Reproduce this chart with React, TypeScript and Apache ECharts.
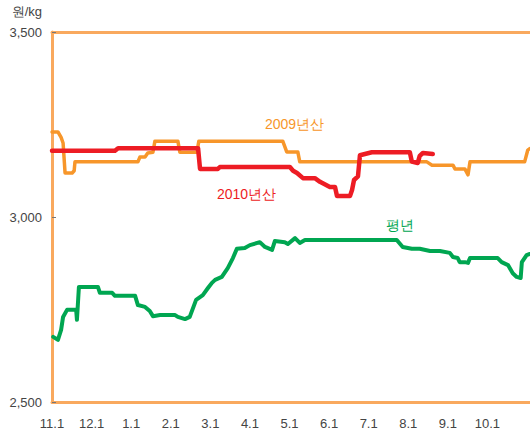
import React, { useEffect, useRef } from "react";
import * as echarts from "echarts";

// x values are months elapsed since Nov 1 (0 = 11.1, 1 = 12.1, ...)
const monthLabels = ["11.1", "12.1", "1.1", "2.1", "3.1", "4.1", "5.1", "6.1", "7.1", "8.1", "9.1", "10.1"];
const yTicks = [2500, 3000, 3500];

const crop2009X = [0, 0.15, 0.23, 0.28, 0.33, 0.51, 0.56, 0.58, 2.17, 2.22, 2.35, 2.42, 2.55, 2.6, 3.18, 3.23, 3.66, 3.71, 5.83, 5.93, 6.21, 6.26, 9.47, 9.6, 10.13, 10.18, 10.43, 10.51, 10.56, 11.94, 12.02, 12.07];
const crop2009Y = [3230, 3230, 3215, 3200, 3119, 3119, 3125, 3149, 3149, 3162, 3162, 3173, 3175, 3205, 3205, 3175, 3175, 3205, 3205, 3176, 3176, 3149, 3149, 3140, 3140, 3130, 3130, 3114, 3149, 3149, 3181, 3185];

const crop2010X = [0, 1.59, 1.67, 3.69, 3.74, 4.19, 4.24, 6.01, 6.09, 6.19, 6.34, 6.64, 6.77, 7.02, 7.15, 7.2, 7.53, 7.58, 7.63, 7.73, 7.78, 8.08, 9.04, 9.09, 9.24, 9.29, 9.37, 9.62];
const crop2010Y = [3179, 3179, 3186, 3186, 3130, 3130, 3135, 3135, 3125, 3119, 3105, 3105, 3095, 3081, 3081, 3057, 3057, 3073, 3100, 3110, 3167, 3175, 3175, 3150, 3146, 3165, 3173, 3170];

const normalX = [0.03, 0.15, 0.23, 0.28, 0.38, 0.61, 0.63, 0.68, 1.16, 1.21, 1.52, 1.59, 2.1, 2.17, 2.35, 2.47, 2.55, 2.73, 3.11, 3.18, 3.36, 3.48, 3.64, 3.81, 3.94, 4.04, 4.12, 4.29, 4.44, 4.57, 4.67, 4.87, 5.0, 5.25, 5.38, 5.56, 5.63, 5.88, 5.96, 6.14, 6.26, 6.39, 8.71, 8.86, 9.09, 9.29, 9.55, 9.8, 10.05, 10.13, 10.25, 10.3, 10.43, 10.51, 10.56, 11.26, 11.36, 11.52, 11.64, 11.74, 11.84, 11.87, 11.99, 12.07];
const normalY = [2676, 2668, 2695, 2730, 2749, 2749, 2722, 2811, 2811, 2795, 2795, 2787, 2787, 2762, 2757, 2746, 2732, 2735, 2735, 2730, 2724, 2730, 2776, 2789, 2808, 2822, 2830, 2838, 2862, 2889, 2914, 2916, 2924, 2932, 2919, 2911, 2935, 2932, 2927, 2943, 2930, 2938, 2938, 2919, 2914, 2914, 2908, 2908, 2903, 2892, 2889, 2878, 2878, 2876, 2889, 2889, 2878, 2870, 2848, 2838, 2835, 2878, 2897, 2900];

const seriesNames = ["2009년산", "2010년산", "평년"];
const unitLabel = "원/kg";

const zip = (xs: number[], ys: number[]) => xs.map((x, i) => [x, ys[i]]);

export default function App() {
  const ref = useRef<HTMLDivElement>(null);
  useEffect(() => {
    if (!ref.current) return;
    const chart = echarts.init(ref.current, null, { renderer: "svg" });
    const font = "'Liberation Sans', Arial, sans-serif";
    const axisOrange = "#F9A95E";
    chart.setOption({
      animation: false,
      backgroundColor: "#ffffff",
      grid: { left: 52, right: 0, top: 32, bottom: 31 },
      xAxis: [
        {
          type: "value",
          min: 0,
          max: 12.07,
          interval: 1,
          axisLine: { show: true, onZero: false, lineStyle: { color: axisOrange, width: 3 } },
          axisTick: { show: false },
          splitLine: { show: false },
          axisLabel: {
            margin: 15,
            color: "#444",
            fontSize: 13,
            fontFamily: font,
            showMaxLabel: false,
            formatter: (v: number) => {
              const i = Math.round(v);
              return i >= 0 && i < monthLabels.length ? monthLabels[i] : "";
            },
          },
        },
        {
          type: "value",
          position: "top",
          min: 0,
          max: 12.07,
          axisLine: { show: true, onZero: false, lineStyle: { color: axisOrange, width: 3 } },
          axisTick: { show: false },
          axisLabel: { show: false },
          splitLine: { show: false },
        },
      ],
      yAxis: {
        type: "value",
        min: yTicks[0],
        max: yTicks[yTicks.length - 1],
        interval: 500,
        axisLine: { show: true, lineStyle: { color: axisOrange, width: 3 } },
        axisTick: { show: true, inside: true, length: 4, lineStyle: { color: "#777", width: 1 } },
        splitLine: { show: false },
        axisLabel: {
          margin: 10,
          color: "#444",
          fontSize: 13,
          fontFamily: font,
          formatter: (v: number) => v.toLocaleString("en-US"),
        },
      },
      series: [
        {
          name: seriesNames[0],
          type: "line",
          data: zip(crop2009X, crop2009Y),
          showSymbol: false,
          smooth: false,
          lineStyle: { color: "#F7962A", width: 3.5, join: "round", cap: "round" },
          z: 3,
        },
        {
          name: seriesNames[2],
          type: "line",
          data: zip(normalX, normalY),
          showSymbol: false,
          lineStyle: { color: "#00A651", width: 4, join: "round", cap: "round" },
          z: 3,
        },
        {
          name: seriesNames[1],
          type: "line",
          data: zip(crop2010X, crop2010Y),
          showSymbol: false,
          lineStyle: { color: "#ED1C24", width: 4.5, join: "round", cap: "round" },
          z: 4,
        },
      ],
      graphic: [
        {
          type: "text",
          right: 488,
          top: 5,
          style: { text: unitLabel, fill: "#444", fontSize: 13, fontFamily: font },
        },
        {
          type: "text",
          left: 265,
          top: 117,
          style: { text: seriesNames[0], fill: "#F7962A", fontSize: 14, fontFamily: font },
        },
        {
          type: "text",
          left: 217,
          top: 187,
          style: { text: seriesNames[1], fill: "#ED1C24", fontSize: 14, fontFamily: font },
        },
        {
          type: "text",
          left: 386,
          top: 218,
          style: { text: seriesNames[2], fill: "#00A651", fontSize: 14, fontFamily: font },
        },
      ],
    });
    return () => chart.dispose();
  }, []);
  return <div ref={ref} style={{ width: 530, height: 433, position: "absolute", left: 0, top: 0 }} />;
}
